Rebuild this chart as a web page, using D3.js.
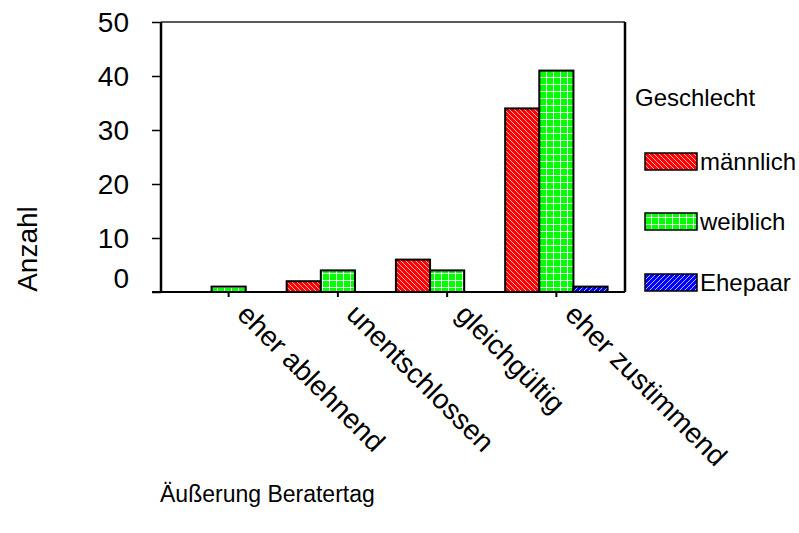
<!DOCTYPE html>
<html>
<head>
<meta charset="utf-8">
<script src="https://cdn.jsdelivr.net/npm/d3@7"></script>
<style>
  body { margin: 0; background: #fff; }
  svg { display: block; font-family: "Liberation Sans", Arial, sans-serif; }
</style>
</head>
<body>
<svg id="chart" width="799" height="533"></svg>
<script>
// Antworten auf die Frage nach dem Beratertag, gruppiert nach Geschlecht
const categories = ["eher ablehnend", "unentschlossen", "gleichgültig", "eher zustimmend"];
const seriesNames = ["männlich", "weiblich", "Ehepaar"];
const maennlich = [0, 2, 6, 34];
const weiblich  = [1, 4, 4, 41];
const ehepaar   = [0, 0, 0, 1];
const yTicks = [0, 10, 20, 30, 40, 50];
const legendTitle = "Geschlecht";
const yTitle = "Anzahl";
const xTitle = "Äußerung Beratertag";

const series = [maennlich, weiblich, ehepaar];
const colors = ["#ff0000", "#00ff00", "#0000ff"];
const patternIds = ["pat-m", "pat-w", "pat-e"];

const svg = d3.select("#chart");
const frame = { left: 161, right: 625, top: 22, bottom: 292 };
const font = "'Liberation Sans', Arial, sans-serif";

// Schraffuren der drei Reihen
const defs = svg.append("defs");
function hatch(id, color, kind) {
  const size = kind === "grid" ? 7 : 5;
  const p = defs.append("pattern")
    .attr("id", id).attr("patternUnits", "userSpaceOnUse")
    .attr("width", size).attr("height", size);
  p.append("rect").attr("width", size).attr("height", size).attr("fill", color);
  let d;
  if (kind === "grid") d = `M0,0.5H${size}M0.5,0V${size}`;
  else if (kind === "back") d = `M-1,-1L${size + 1},${size + 1}M${-size - 1},-1L1,${size + 1}M${size - 1},-1L${2 * size + 1},${size + 1}`;
  else d = `M-1,${size + 1}L${size + 1},-1M-1,1L1,-1M${size - 1},${size + 1}L${size + 1},${size - 1}`;
  p.append("path").attr("d", d)
    .attr("stroke", "#ffffff").attr("stroke-width", kind === "grid" ? 1 : 0.9)
    .attr("stroke-opacity", kind === "grid" ? 0.9 : 0.8).attr("fill", "none");
}
hatch(patternIds[0], colors[0], "back");
hatch(patternIds[1], colors[1], "grid");
hatch(patternIds[2], colors[2], "fwd");

// Skalen
const x = d3.scaleBand().domain(categories).range([174, 611]).paddingInner(0).paddingOuter(0);
const xInner = d3.scaleBand().domain(d3.range(series.length))
  .range([0, x.bandwidth()]).paddingInner(0).paddingOuter(0.1);
const y = d3.scaleLinear().domain([0, 50]).range([frame.bottom, frame.top]);

// Balken
series.forEach((vals, si) => {
  svg.append("g").selectAll("rect")
    .data(vals.map((v, i) => ({ v, c: categories[i] })).filter(d => d.v > 0))
    .join("rect")
    .attr("x", d => x(d.c) + xInner(si))
    .attr("y", d => y(d.v))
    .attr("width", xInner.bandwidth())
    .attr("height", d => y(0) - y(d.v))
    .attr("fill", `url(#${patternIds[si]})`)
    .attr("stroke", "#000").attr("stroke-width", 2);
});

// Rahmen oben und rechts
svg.append("line").attr("x1", frame.left).attr("x2", frame.right)
  .attr("y1", frame.top).attr("y2", frame.top).attr("stroke", "#222").attr("stroke-width", 1.5);
svg.append("line").attr("x1", frame.right).attr("x2", frame.right)
  .attr("y1", frame.top).attr("y2", frame.bottom).attr("stroke", "#000").attr("stroke-width", 2.5);

// y-Achse
const yAxis = svg.append("g").attr("transform", `translate(${frame.left},0)`)
  .call(d3.axisLeft(y).tickValues(yTicks).tickSize(9).tickPadding(23).tickFormat(d3.format("d")));
yAxis.select(".domain").attr("stroke-width", 2.5).attr("d", `M0,${frame.top}V${frame.bottom + 1}`);
yAxis.selectAll(".tick line").attr("stroke-width", 1.5);
yAxis.selectAll(".tick text").attr("font-size", 28).attr("fill", "#000")
  .attr("font-family", font)
  .attr("dy", d => d === 0 ? "-5px" : "0.35em");

// x-Achse
const xAxis = svg.append("g").attr("transform", `translate(0,${frame.bottom})`)
  .call(d3.axisBottom(x).tickSize(5).tickSizeOuter(0));
xAxis.select(".domain").attr("stroke-width", 2).attr("d", `M${frame.left - 9},0H${frame.right}`);
xAxis.selectAll(".tick line").attr("stroke-width", 2);
xAxis.selectAll(".tick text")
  .attr("font-size", 28).attr("fill", "#000")
  .attr("font-family", font)
  .attr("text-anchor", "start")
  .attr("x", 0).attr("y", 0).attr("dy", 0)
  .attr("transform", "translate(7,24) rotate(45)");

// Achsentitel
svg.append("text").attr("transform", "translate(37,249) rotate(-90)")
  .attr("text-anchor", "middle").attr("font-size", 28).text(yTitle);
svg.append("text").attr("x", 160).attr("y", 502)
  .attr("font-size", 23).text(xTitle);

// Legende
const legend = svg.append("g");
legend.append("text").attr("x", 635).attr("y", 106).attr("font-size", 24).text(legendTitle);
const legendY = [153, 213, 274];
seriesNames.forEach((name, i) => {
  legend.append("rect").attr("x", 645).attr("y", legendY[i])
    .attr("width", 52).attr("height", 17)
    .attr("fill", `url(#${patternIds[i]})`).attr("stroke", "#000").attr("stroke-width", 1.5);
  legend.append("text").attr("x", 700).attr("y", legendY[i] + 8.5).attr("dy", "0.35em")
    .attr("font-size", 24).text(name);
});
</script>
</body>
</html>
